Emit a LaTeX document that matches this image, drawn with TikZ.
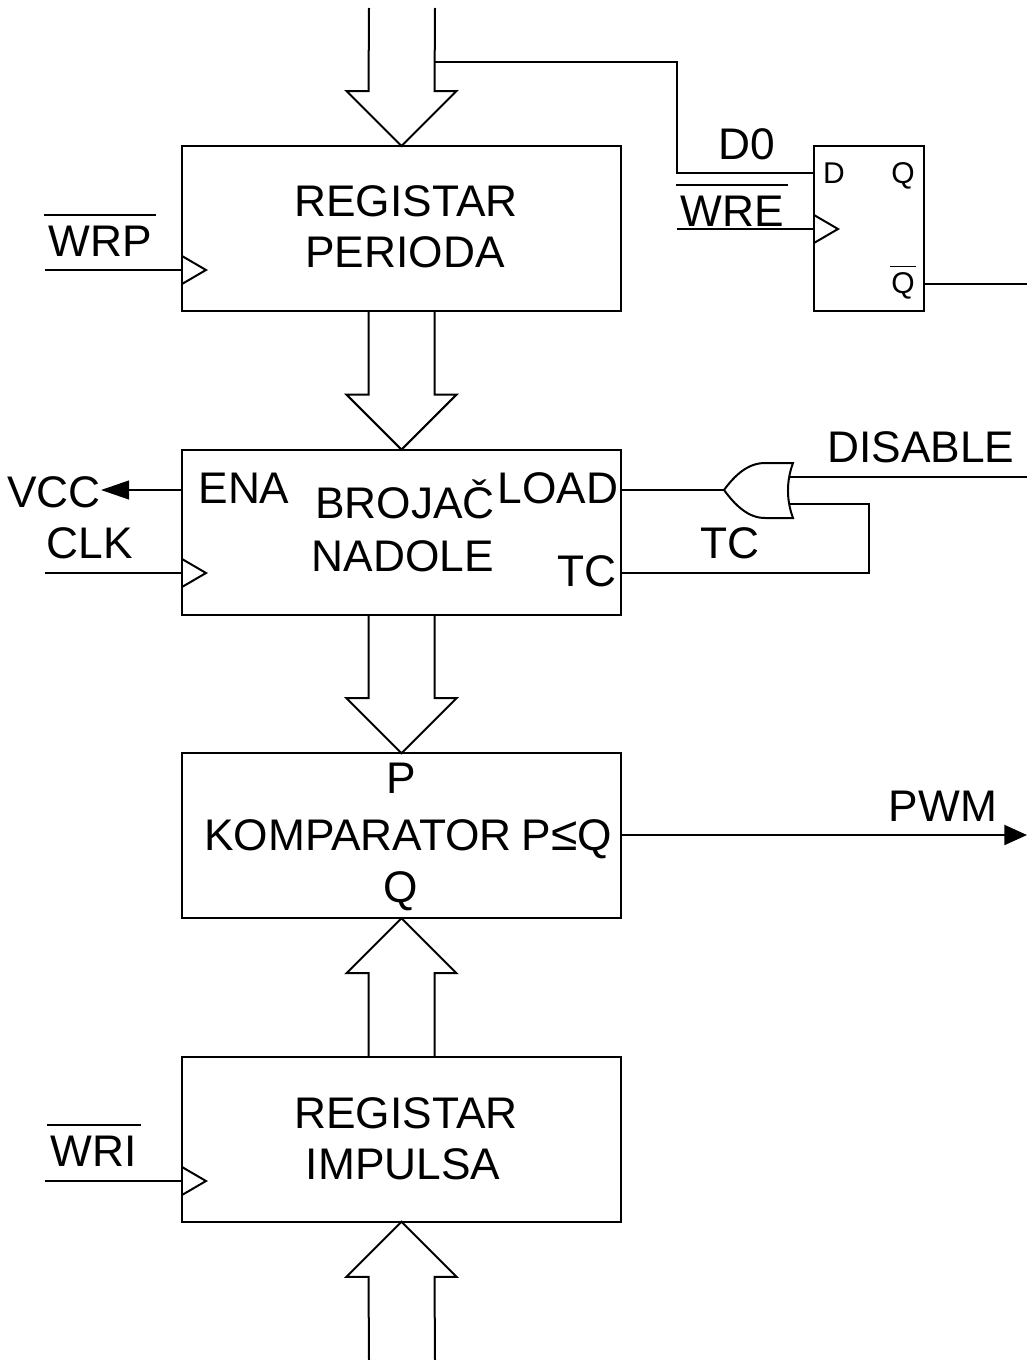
\documentclass[tikz,border=0pt]{standalone}
\usepackage{fontspec}
\setmainfont{Liberation Sans}
\usetikzlibrary{arrows.meta,calc,positioning}
\tikzset{blok/.style={draw, rectangle, inner sep=0pt, outer sep=0pt, minimum width=329.25pt, minimum height=123.75pt}}
\tikzset{ff/.style={draw, rectangle, inner sep=0pt, outer sep=0pt, minimum width=82.5pt, minimum height=123.75pt}}
\tikzstyle{txt}=[anchor=base, inner sep=0pt, font=\fontsize{33.2}{38}\selectfont]
\tikzstyle{mali}=[anchor=base, inner sep=0pt, font=\fontsize{22.5}{26}\selectfont]
\tikzstyle{ntxt}=[txt, inner xsep=2.5pt, inner ysep=7pt]
\tikzstyle{strelica}=[-{Triangle[length=21pt,width=14pt]}]
% sabirnica: od tacke #1 do vrha na tacki #2
\newcommand{\busdown}[2]{\draw ($(#1)+(-33,0)$) -- ($(#2)+(-33,-55)$) -- ($(#2)+(-55,-55)$) -- (#2) -- ($(#2)+(55,-55)$) -- ($(#2)+(33,-55)$) -- ($(#1)+(33,0)$);}
\newcommand{\busup}[2]{\draw ($(#1)+(-33,0)$) -- ($(#2)+(-33,55)$) -- ($(#2)+(-55,55)$) -- (#2) -- ($(#2)+(55,55)$) -- ($(#2)+(33,55)$) -- ($(#1)+(33,0)$);}
\newcommand{\klok}[1]{\draw ($(#1)+(0,-14)$) -- ($(#1)+(24,0)$) -- ($(#1)+(0,14)$);}
\begin{document}
\begin{tikzpicture}[x=0.75pt, y=-0.75pt, line width=1.5pt, node distance=227.7pt]
\useasboundingbox (0,0) rectangle (1027,1360);
\node[blok] at (401.5,228.5) (per){};
\node[blok][below of =per] (cnt){};
\node[blok][below of =cnt] (kom){};
\node[blok][below of =kom] (imp){};
\node[ff] at (869,228.5) (dff){};

\coordinate (busin) at (402,8);
\coordinate (busout) at (402,1360);
\coordinate (d0kol) at (435,62);
\coordinate (d0gore) at (677,62);
\coordinate (d0ulaz) at (677,173);
\coordinate (wreulaz) at (677,229);
\coordinate (wrpulaz) at (45,270);
\coordinate (clkulaz) at (45,573);
\coordinate (wriulaz) at (45,1181);
\coordinate (qizlaz) at (1027,284);
\coordinate (vcctip) at (101,490);
\coordinate (pwmtip) at (1027,835);
\coordinate (ortip) at (724,490);
\coordinate (orin1) at (789,477);
\coordinate (orin2) at (790,504);
\coordinate (disul) at (1027,477);
\coordinate (tckol) at (869,504);
\coordinate (tcdole) at (869,573);
\coordinate (tcizl) at (621,573);
\coordinate (wreklok) at (wreulaz -| dff.west);
\coordinate (wrpklok) at (wrpulaz -| per.west);
\coordinate (clkklok) at (clkulaz -| cnt.west);
\coordinate (wriklok) at (wriulaz -| imp.west);

\busdown{busin}{per.north}
\busdown{per.south}{cnt.north}
\busdown{cnt.south}{kom.north}
\busup{imp.north}{kom.south}
\busup{busout}{imp.south}

\draw (d0kol) -- (d0gore) -- (d0ulaz) -- (d0ulaz -| dff.west);
\draw (wreulaz) -- (wreklok);
\draw (wrpulaz) -- (wrpklok);
\draw (clkulaz) -- (clkklok);
\draw (wriulaz) -- (wriklok);
\klok{wreklok}
\klok{wrpklok}
\klok{clkklok}
\klok{wriklok}
\draw (qizlaz -| dff.east) -- (qizlaz);
\draw[strelica] (vcctip -| cnt.west) -- (vcctip);
\draw[-{Triangle[length=17pt,width=15pt]}] (pwmtip -| kom.east) -- (pwmtip);

\draw (ortip) .. controls (735,475) and (748,463) .. (765,463) -- (793,463)
	.. controls (786.3,481) and (786.3,500) .. (793,518) -- (765,518)
	.. controls (748,518) and (735,505) .. (ortip);
\draw (ortip -| cnt.east) -- (ortip);
\draw (orin1) -- (disul);
\draw (orin2) -- (tckol) -- (tcdole) -- (tcizl);

\node[txt] at (406,216) (t1){REGISTAR};
\node[txt] at (405,267) (t2){PERIODA};
\node[ntxt] at (100,256) (wrp){WRP};
\node[txt] at (747,159) (d0){D0};
\node[ntxt] at (732,226) (wre){WRE};
\node[mali] at (834,183) (dd){D};
\node[mali] at (903,183) (qq){Q};
\node[mali, inner ysep=3.5pt] at (903,293) (qn){Q};
\node[txt] at (921,462) (dis){DISABLE};
\node[txt] at (244,503) (ena){ENA};
\node[txt] at (405,518) (t3){BROJAČ};
\node[txt] at (403,571) (t4){NADOLE};
\node[txt] at (558,503) (load){LOAD};
\node[txt] at (587,586) (tc1){TC};
\node[txt] at (730,558) (tc2){TC};
\node[txt] at (54,507) (vcc){VCC};
\node[txt] at (90,558) (clk){CLK};
\node[txt] at (401,793) (pp){P};
\node[txt] at (358,850) (t5){KOMPARATOR};
\node[txt] at (567,850) (pq){P{\fontsize{36}{36}\selectfont ≤}Q};
\node[txt] at (401,902) (qk){Q};
\node[txt] at (943,821) (pwm){PWM};
\node[txt] at (406,1128) (t6){REGISTAR};
\node[txt] at (403,1179) (t7){IMPULSA};
\node[ntxt] at (94,1166) (wri){WRI};

\draw (wrp.north west) -- (wrp.north east);
\draw (wre.north west) -- (wre.north east);
\draw (wri.north west) -- (wri.north east);
\draw[line width=1pt] (qn.north west) -- (qn.north east);
\end{tikzpicture}
\end{document}
